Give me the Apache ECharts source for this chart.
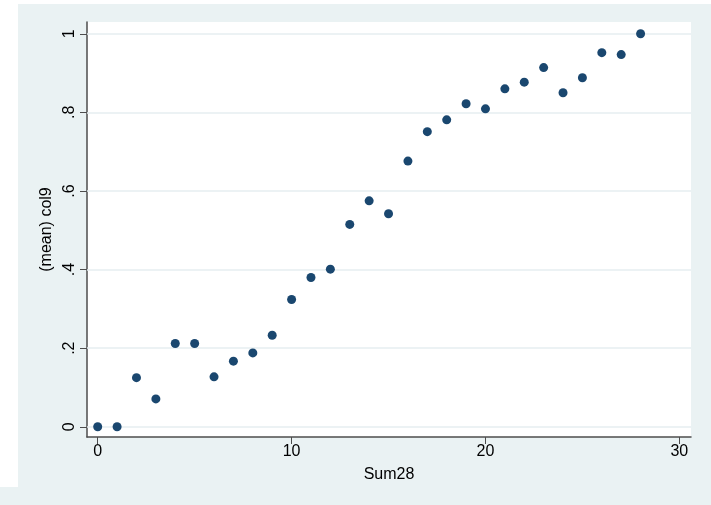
<!DOCTYPE html>
<html>
<head>
<meta charset="utf-8">
<script src="https://cdn.jsdelivr.net/npm/echarts@6/dist/echarts.min.js"></script>
<style>
  html, body { margin: 0; padding: 0; background: #ffffff; }
  #chart { width: 711px; height: 505px; }
</style>
</head>
<body>
<div id="chart"></div>
<script>
// Sum28 score categories and the mean of col9 within each
const sum28 = [0, 1, 2, 3, 4, 5, 6, 7, 8, 9, 10, 11, 12, 13, 14, 15, 16, 17, 18, 19, 20, 21, 22, 23, 24, 25, 26, 27, 28];
const meanCol9 = [0, 0, 0.125, 0.071, 0.212, 0.212, 0.127, 0.167, 0.188, 0.233,
                  0.324, 0.380, 0.401, 0.515, 0.575, 0.542, 0.676, 0.751, 0.781, 0.822,
                  0.809, 0.860, 0.877, 0.914, 0.850, 0.888, 0.952, 0.947, 1.0];

// Tick positions
const xTicks = [0, 10, 20, 30];
const yTicks = [0, 0.2, 0.4, 0.6, 0.8, 1];

const panelColor = '#EAF2F3';
const axisColor = '#4d4d4d';
const font = 'Liberation Sans, Arial, sans-serif';

const chart = echarts.init(document.getElementById('chart'), null, { renderer: 'canvas' });

chart.setOption({
  backgroundColor: '#ffffff',
  animation: false,
  graphic: [
    { type: 'rect', z: -10, shape: { x: 18, y: 4, width: 693, height: 501 }, style: { fill: panelColor } },
    { type: 'rect', z: -10, shape: { x: 0, y: 487, width: 18, height: 18 }, style: { fill: panelColor } }
  ],
  grid: {
    left: 87, right: 20, top: 22, bottom: 68,
    show: true, backgroundColor: '#ffffff', borderWidth: 0
  },
  xAxis: {
    type: 'value',
    min: -0.552, max: 30.6,
    name: 'Sum28',
    nameLocation: 'middle',
    nameGap: 30,
    nameTextStyle: { color: '#000', fontSize: 16, fontFamily: font },
    axisLine: { show: true, onZero: false, lineStyle: { color: axisColor, width: 1.5 } },
    axisTick: { show: true, length: 7, lineStyle: { color: axisColor, width: 1 }, customValues: xTicks },
    axisLabel: { color: '#000', fontSize: 16, fontFamily: font, margin: 7, customValues: xTicks },
    splitLine: { show: false }
  },
  yAxis: {
    type: 'value',
    min: -0.026, max: 1.030,
    name: '(mean) col9',
    nameLocation: 'middle',
    nameGap: 27,
    nameTextStyle: { color: '#000', fontSize: 16, fontFamily: font },
    axisLine: { show: true, onZero: false, lineStyle: { color: axisColor, width: 1.5 } },
    axisTick: { show: true, length: 7, lineStyle: { color: axisColor, width: 1 }, customValues: yTicks },
    axisLabel: {
      color: '#000', fontSize: 16, fontFamily: font, margin: 9, rotate: 90,
      customValues: yTicks,
      formatter: function (v) {
        if (Math.abs(v) < 1e-9) return '0';
        if (Math.abs(v - 1) < 1e-9) return '1';
        return String(Math.round(v * 10) / 10).replace(/^0\./, '.');
      }
    },
    splitLine: { show: false }
  },
  series: [{
    type: 'scatter',
    data: sum28.map((x, i) => [x, meanCol9[i]]),
    symbol: 'circle',
    symbolSize: 9,
    itemStyle: { color: '#1A476F', opacity: 1 },
    z: 5,
    markLine: {
      silent: true,
      symbol: 'none',
      label: { show: false },
      lineStyle: { color: '#E6EEF1', width: 1.5, type: 'solid' },
      z: 1,
      data: yTicks.map(v => ({ yAxis: v }))
    }
  }]
});
</script>
</body>
</html>
